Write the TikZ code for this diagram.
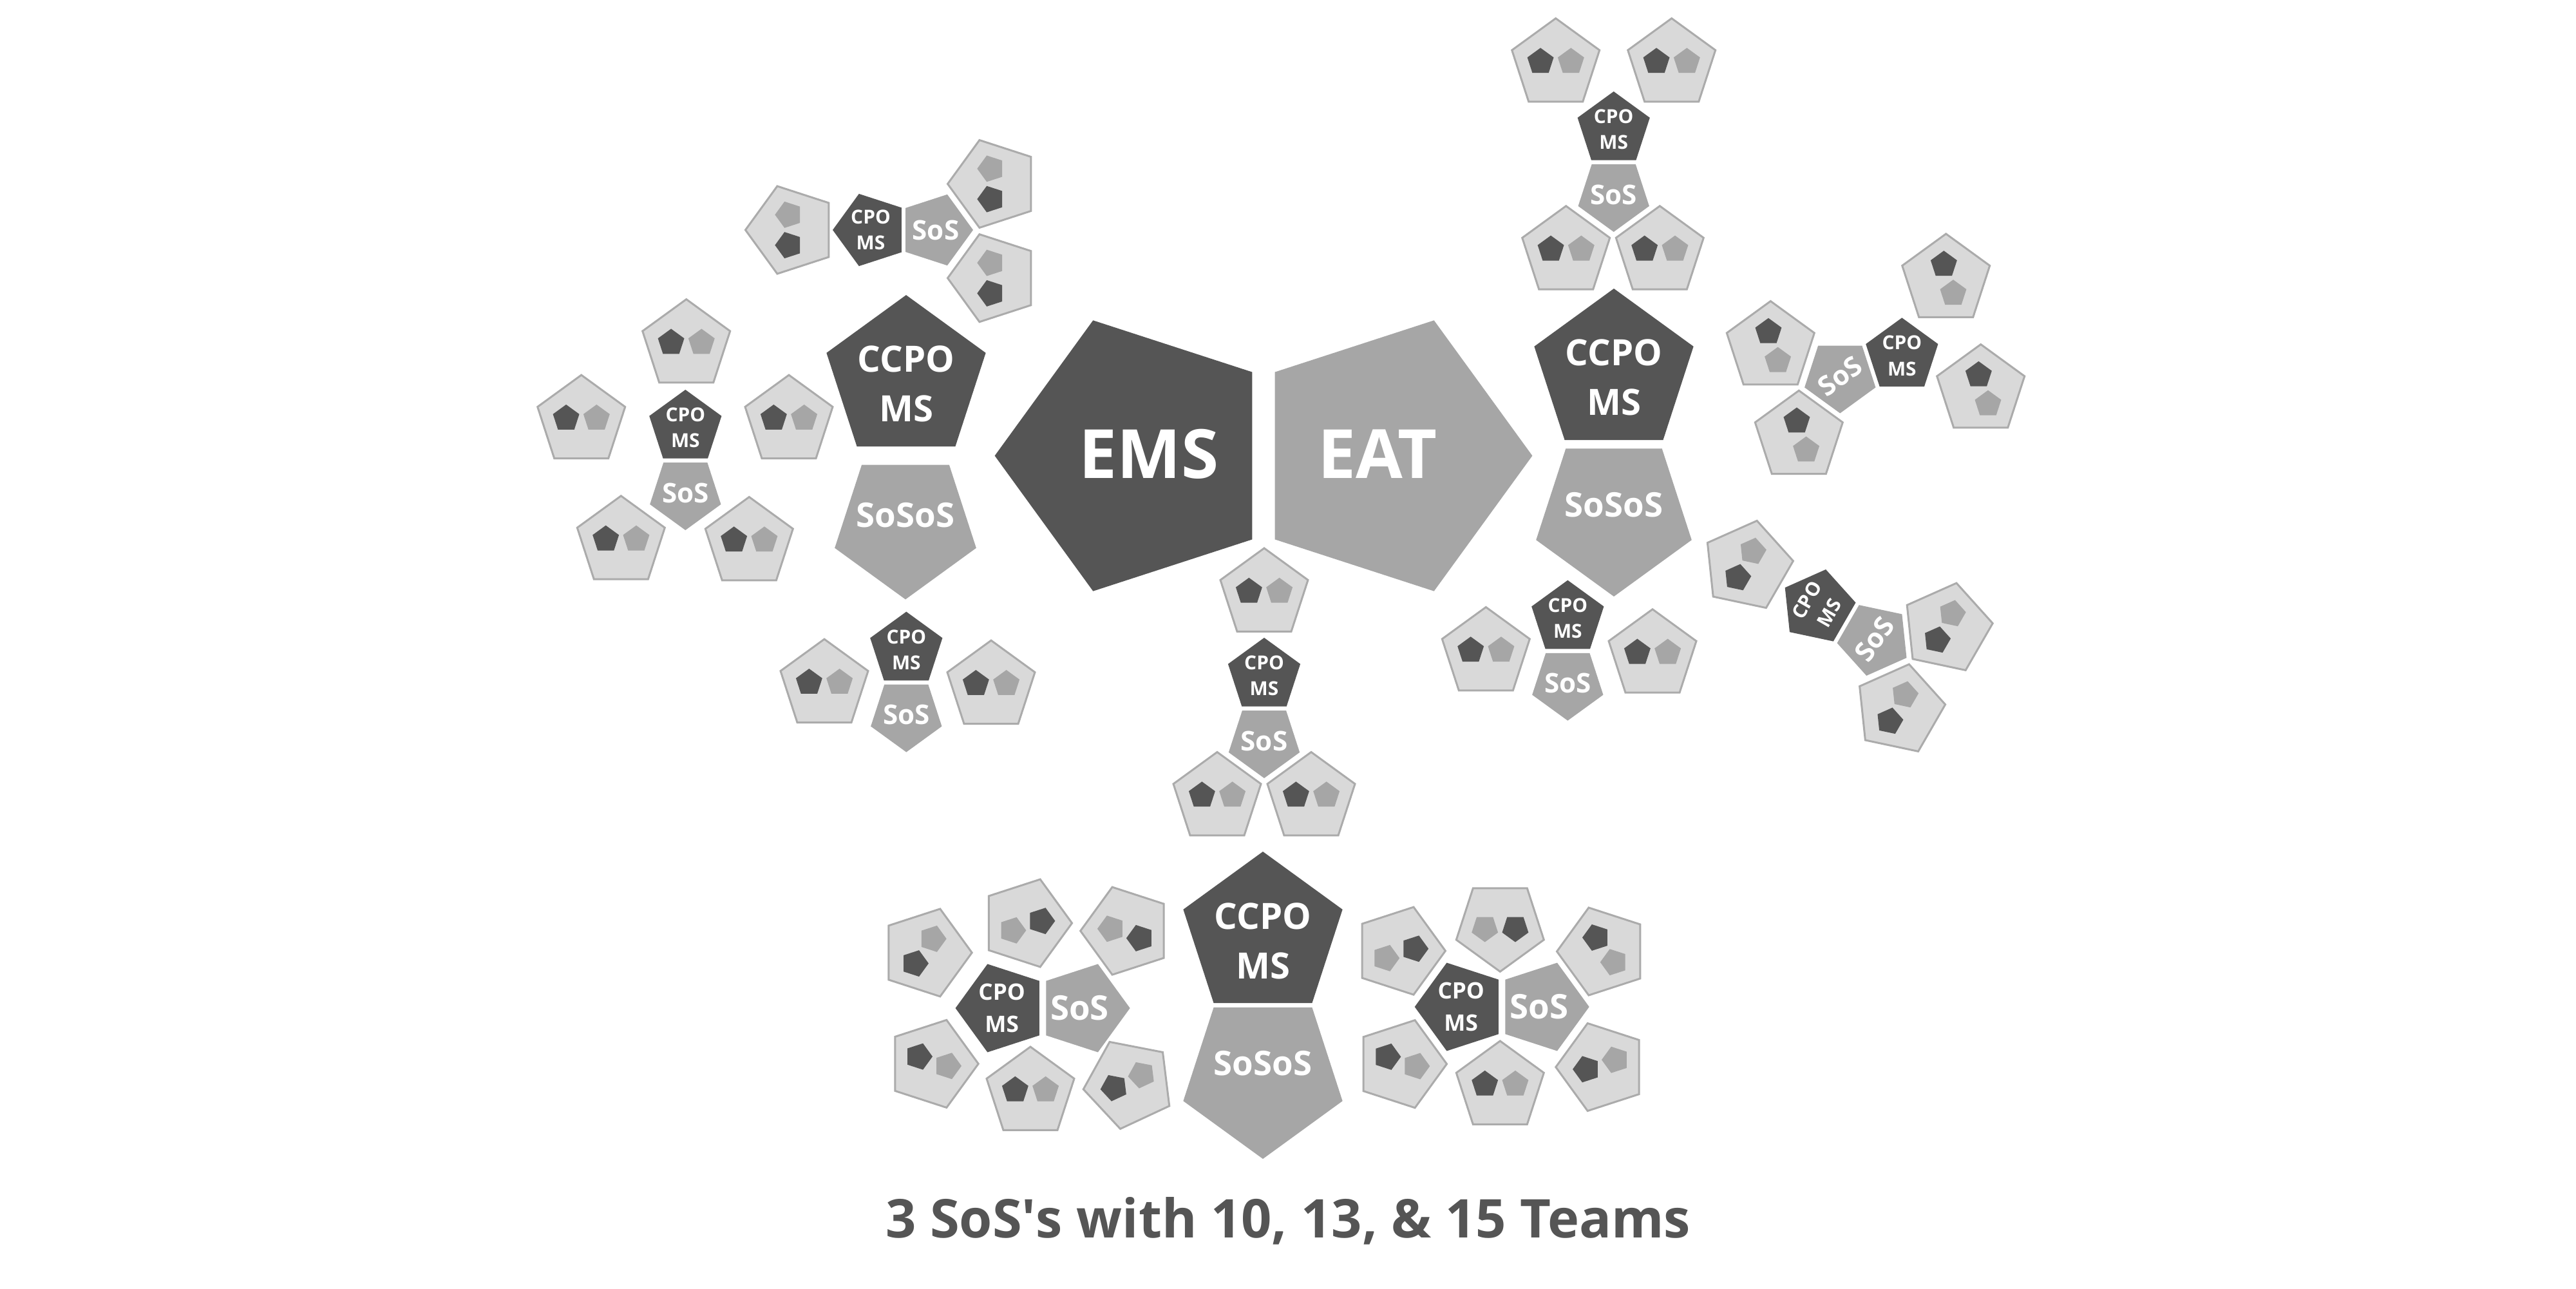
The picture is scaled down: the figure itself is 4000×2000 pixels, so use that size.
\documentclass[tikz,border=0pt]{standalone}
\usepackage{fontspec}
\setmainfont{Open Sans}
\usepackage{xcolor}
\usepackage{tikz}
\usetikzlibrary{shapes.geometric,calc}

\definecolor{dk}{HTML}{555555}
\definecolor{md}{HTML}{A6A6A6}
\definecolor{lt}{HTML}{D9D9D9}
\definecolor{edge}{HTML}{ABABAB}

% one team: name, position, turn
\newcommand{\team}[3]{%
  \node[team, rotate=#3] (#1) at (#2) {};
  \node[minidark, rotate=#3] (#1-a) at ($(#1)+(#3+170:24)$) {};
  \node[minimid, rotate=#3] (#1-b) at ($(#1)+(#3+10:24)$) {};
}
% CPO/SoS pair: name, position, turn, CPO text turn, SoS text turn
\newcommand{\pair}[5]{%
  \node[cpo, rotate=#3] (#1-cpo) at (#2) {};
  \node[sos, rotate=#3] (#1-sos) at ($(#1-cpo)+(#3-90:101)$) {};
  \node[cpotxt, rotate=#4] (#1-cpot) at (#1-cpo) {CPO\\MS};
  \node[sostxt, rotate=#5] (#1-sost) at (#1-sos) {SoS};
}

\begin{document}
\begin{tikzpicture}[x=0.1mm,y=0.1mm]
\tikzstyle{pent}=[regular polygon, regular polygon sides=5, inner sep=0pt, outer sep=0pt]
\tikzstyle{team}=[pent, minimum size=14.3mm, fill=lt, draw=edge, line width=0.3mm]
\tikzstyle{minidark}=[pent, minimum size=4.3mm, fill=dk]
\tikzstyle{minimid}=[pent, minimum size=4.3mm, fill=md]
\tikzstyle{cpo}=[pent, minimum size=11.8mm, fill=dk]
\tikzstyle{sos}=[pent, minimum size=11.6mm, fill=md, shape border rotate=180]
\tikzstyle{bigcpo}=[pent, minimum size=26mm, fill=dk]
\tikzstyle{bigsos}=[pent, minimum size=26mm, fill=md, shape border rotate=180]
\tikzstyle{cpotxt}=[text=white, inner sep=0pt, align=center, font=\bfseries\fontsize{8.5}{11.4}\selectfont]
\tikzstyle{sostxt}=[text=white, inner sep=0pt, font=\bfseries\fontsize{12}{12}\selectfont]
\tikzstyle{bigtxt}=[text=white, inner sep=0pt, align=center, font=\bfseries\fontsize{16}{22}\selectfont]
\tikzstyle{sosostxt}=[text=white, inner sep=0pt, font=\bfseries\fontsize{15}{15}\selectfont]
\useasboundingbox (0,0) rectangle (4000,2000);

% EMS and EAT
\node[pent, minimum size=44.2mm, fill=dk, rotate=90] (ems) at (1765.6,1292.5) {};
\node[pent, minimum size=44.2mm, fill=md, rotate=-90] (eat) at (2158.4,1292.5) {};
\node[text=white, inner sep=0pt, font=\bfseries\fontsize{30}{30}\selectfont] (ems-t) at (1784,1295) {EMS};
\node[text=white, inner sep=0pt, font=\bfseries\fontsize{30}{30}\selectfont] (eat-t) at (2139,1295) {EAT};

% left SoSoS, 10 teams
\node[bigcpo] (l-ccpo) at (1407,1412) {};
\node[bigsos, minimum size=23.1mm] (l-sosos) at (1406,1185) {};
\node[bigtxt] (l-ccpot) at ($(l-ccpo)+(0,-8)$) {CCPO\\MS};
\node[sosostxt] (l-sosost) at ($(l-sosos)+(0,15)$) {SoSoS};
\pair{lt}{1352,1643}{90}{0}{0}
\team{lt1}{1229,1643}{90}
\team{lt2}{1543,1714.5}{90}
\team{lt3}{1543,1568.3}{90}
\pair{ll}{1064.3,1336}{0}{0}{0}
\team{ll1}{1065.7,1463.9}{0}
\team{ll2}{902.7,1346.3}{0}
\team{ll3}{1225,1346.3}{0}
\team{ll4}{964.3,1158.7}{0}
\team{ll5}{1163.3,1157}{0}
\pair{lb}{1407.3,991.4}{0}{0}{0}
\team{lb1}{1280,936.3}{0}
\team{lb2}{1539,934.3}{0}

% right SoSoS, 13 teams
\node[bigcpo] (r-ccpo) at (2506,1422) {};
\node[bigsos, minimum size=25.4mm] (r-sosos) at (2506,1201) {};
\node[bigtxt] (r-ccpot) at ($(r-ccpo)+(0,-8)$) {CCPO\\MS};
\node[sosostxt] (r-sosost) at ($(r-sosos)+(0,15)$) {SoSoS};
\pair{rt}{2505.7,1799}{0}{0}{0}
\team{rt1}{2415.7,1900}{0}
\team{rt2}{2595.7,1900}{0}
\team{rt3}{2431.7,1608.7}{0}
\team{rt4}{2577.3,1608.7}{0}
\pair{ru}{2953.3,1447.7}{-72}{0}{36}
\team{ru1}{2749.3,1461}{-72}
\team{ru2}{3021.7,1565.5}{-72}
\team{ru3}{3075.7,1393.9}{-72}
\team{ru4}{2793.3,1322.2}{-72}
\pair{rl}{2822.8,1058.3}{60}{60}{54}
\team{rl1}{2713.3,1121.7}{60}
\team{rl2}{3023.1,1024.9}{60}
\team{rl3}{2949.5,898.9}{60}
\pair{rb}{2434.3,1040.3}{0}{0}{0}
\team{rb1}{2307.3,986}{0}
\team{rb2}{2566,982.7}{0}

% middle SoSoS, 15 teams
\node[bigcpo] (m-ccpo) at (1961,548) {};
\node[bigsos] (m-sosos) at (1961,331) {};
\node[bigtxt] (m-ccpot) at ($(m-ccpo)+(0,-9)$) {CCPO\\MS};
\node[sosostxt] (m-sosost) at ($(m-sosos)+(0,18)$) {SoSoS};
\pair{mt}{1963,951}{0}{0}{0}
\team{mt1}{1963,1077.5}{0}
\team{mt2}{1890,761}{0}
\team{mt3}{2036,761}{0}
\node[cpo, minimum size=14.4mm, rotate=90] (ml-cpo) at (1555.6,435) {};
\node[sos, minimum size=14.4mm, rotate=90] (ml-sos) at ($(ml-cpo)+(0:127)$) {};
\node[cpotxt, font=\bfseries\fontsize{10}{14.2}\selectfont] (ml-cpot) at (ml-cpo) {CPO\\MS};
\node[sostxt, font=\bfseries\fontsize{15}{15}\selectfont] (ml-sost) at ($(ml-sos)+(-6,0)$) {SoS};
\team{ml1}{1437.7,521.1}{54}
\team{ml2}{1593.1,567}{198}
\team{ml3}{1749.2,554.9}{162}
\team{ml4}{1447.7,348.6}{-18}
\team{ml5}{1600,303.5}{0}
\team{ml6}{1753.2,317.8}{25}
\node[cpo, minimum size=14.4mm, rotate=90] (mr-cpo) at (2268.7,437) {};
\node[sos, minimum size=14.4mm, rotate=90] (mr-sos) at ($(mr-cpo)+(0:127)$) {};
\node[cpotxt, font=\bfseries\fontsize{10}{14.2}\selectfont] (mr-cpot) at (mr-cpo) {CPO\\MS};
\node[sostxt, font=\bfseries\fontsize{15}{15}\selectfont] (mr-sost) at ($(mr-sos)+(-6,0)$) {SoS};
\team{mr1}{2172.9,523.9}{198}
\team{mr2}{2329.3,563.2}{180}
\team{mr3}{2489,523}{-54}
\team{mr4}{2175,348.3}{-18}
\team{mr5}{2329.3,312.5}{0}
\team{mr6}{2487.3,343.5}{18}

\node[text=dk, anchor=base, inner sep=0pt, font=\bfseries\fontsize{23.6}{23.6}\selectfont] (title) at (2000,78.3) {3 SoS\textquotesingle s with 10, 13, \& 15 Teams};
\end{tikzpicture}
\end{document}
